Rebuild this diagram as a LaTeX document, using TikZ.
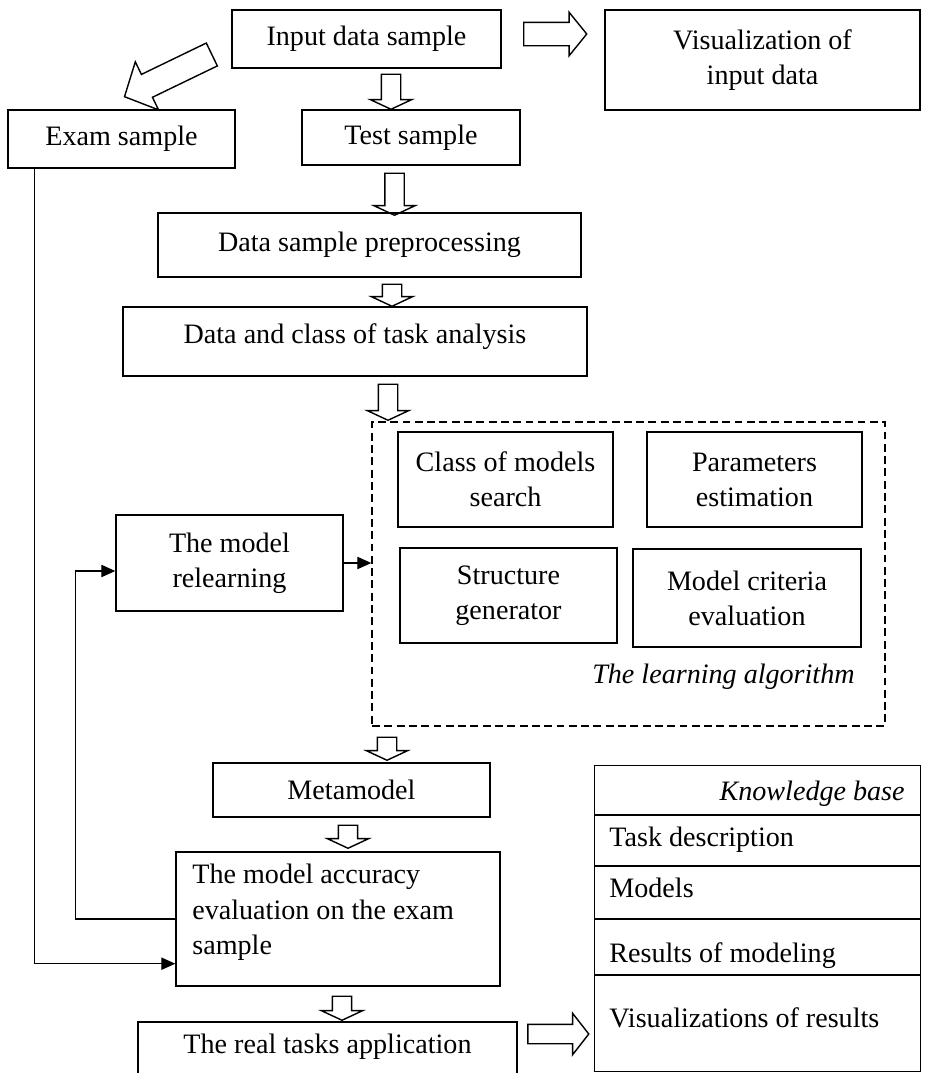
\documentclass[tikz,border=0pt]{standalone}
\usepackage{fontspec}
\setmainfont{Liberation Serif}
\usetikzlibrary{shapes.arrows, arrows.meta, positioning, calc}
\tikzset{
    box/.style={rectangle, draw, line width=0.8pt, align=center},
    toptext/.style={text depth=#1},
    hollow/.style={single arrow, draw, line width=0.8pt, inner xsep=0pt, inner ysep=0.18cm, single arrow head extend=0.22cm, single arrow tip angle=130},
    down/.style={hollow, rotate=-90},
    arrow/.style={-{Triangle[length=8pt, width=7pt]}, line width=0.8pt},
    algobox/.style={draw, dash pattern=on 4.5pt off 2.5pt, line width=0.8pt},
}
\begin{document}
\begin{tikzpicture}[x=0.02cm, y=-0.02cm, font=\fontsize{16}{20}\selectfont]
    \useasboundingbox (0,0) rectangle (930,1073);

    % INPUT AND SAMPLES
    \node[box, minimum width=5.38cm, minimum height=1.16cm] (input) at (366.5,39) {Input data sample};
    \node[box, minimum width=6.3cm, minimum height=2cm] (visual) at (762.5,60) {Visualization of\\input data};
    \node[box, minimum width=4.54cm, minimum height=1.16cm] (exam) at (121.5,139) {Exam sample};
    \node[box, minimum width=4.36cm, minimum height=1.1cm] (test) at (411,137.5) {Test sample};

    % PREPROCESSING
    \node[box, minimum width=8.46cm, minimum height=1.28cm] (preproc) at (369.5,245) {Data sample preprocessing};
    \node[box, toptext=0.32cm, minimum width=9.28cm, minimum height=1.38cm] (analysis) at (355,341.5) {Data and class of task analysis};

    % LEARNING ALGORITHM
    \node[algobox, minimum width=10.26cm, minimum height=6.08cm] (learnbox) at (628.5,574) {};
    \node[box, minimum width=4.3cm, minimum height=1.9cm] (models) at (505.5,479.5) {Class of models\\search};
    \node[box, minimum width=4.3cm, minimum height=1.9cm] (params) at (754.5,479.5) {Parameters\\estimation};
    \node[box, minimum width=4.34cm, minimum height=1.9cm] (struct) at (508.5,595.5) {Structure\\generator};
    \node[box, minimum width=4.56cm, minimum height=1.96cm] (criteria) at (747,598) {Model criteria\\evaluation};
    \node[anchor=base east, inner sep=0pt] (algolabel) at (855,683) {\itshape The learning algorithm};

    \node[box, minimum width=4.54cm, minimum height=1.92cm] (relearn) at (229.5,563) {The model\\relearning};

    % MODEL AND EVALUATION
    \node[box, minimum width=5.54cm, minimum height=1.08cm] (meta) at (351.5,790) {Metamodel};
    \node[box, minimum width=6.48cm, minimum height=2.68cm] (accuracy) at (338,919) {};
    \node[anchor=north west, inner sep=0pt, align=left] (acctext) at (192,864) {The model accuracy\\evaluation on the exam\\sample};
    \node[box, toptext=0.34cm, minimum width=7.58cm, minimum height=1.2cm] (realtask) at (327.5,1052) {The real tasks application};

    % KNOWLEDGE BASE
    \node[box, anchor=north west, minimum width=6.52cm, minimum height=6.12cm] (kbase) at (594,765) {};
    \foreach \y in {815,866,919,975}
        \draw[line width=0.8pt] (kbase.west |- 0,\y) -- (kbase.east |- 0,\y);
    \node[anchor=base east, inner sep=0pt] (kbtitle) at (905,800) {\itshape Knowledge base};
    \node[anchor=base west, inner sep=0pt] (kbtask) at (609,846) {Task description};
    \node[anchor=base west, inner sep=0pt] (kbmodels) at (609,897) {Models};
    \node[anchor=base west, inner sep=0pt] (kbresults) at (609,962) {Results of modeling};
    \node[anchor=base west, inner sep=0pt] (kbvis) at (609,1027) {Visualizations of results};

    % Hollow arrows
    \node[down, minimum height=0.7cm] (a1) at (391,89.5) {};
    \node[down, minimum height=0.84cm] (a2) at (394.5,192) {};
    \node[down, minimum height=0.44cm] (a3) at (392,293) {};
    \node[down, minimum height=0.72cm] (a4) at (388,400) {};
    \node[down, minimum height=0.46cm] (a5) at (387,746.5) {};
    \node[down, minimum height=0.46cm] (a6) at (348,834.5) {};
    \node[down, minimum height=0.48cm] (a7) at (342,1006) {};
    \node[hollow, minimum height=1.26cm, inner ysep=0.22cm, single arrow head extend=0.2cm, single arrow tip angle=102] (r1) at (550.5,34) {};
    \node[hollow, minimum height=1.22cm, single arrow head extend=0.22cm, single arrow tip angle=104] (r2) at (554.5,1034) {};
    \node[hollow, rotate=205.8, minimum height=1.94cm, inner ysep=0.24cm, single arrow head extend=0.28cm, single arrow tip angle=94] (d1) at (173.5,73) {};

    % Arrows
    \draw[arrow] (relearn.east) -- (relearn.east -| learnbox.west);
    \draw[arrow] (exam.south west) ++(27,0) |- ($(accuracy.south west)+(0,-23)$);
    \draw[arrow] (accuracy.west) -- ++(-100,0) |- ($(relearn.west)+(0,8)$);

\end{tikzpicture}
\end{document}
